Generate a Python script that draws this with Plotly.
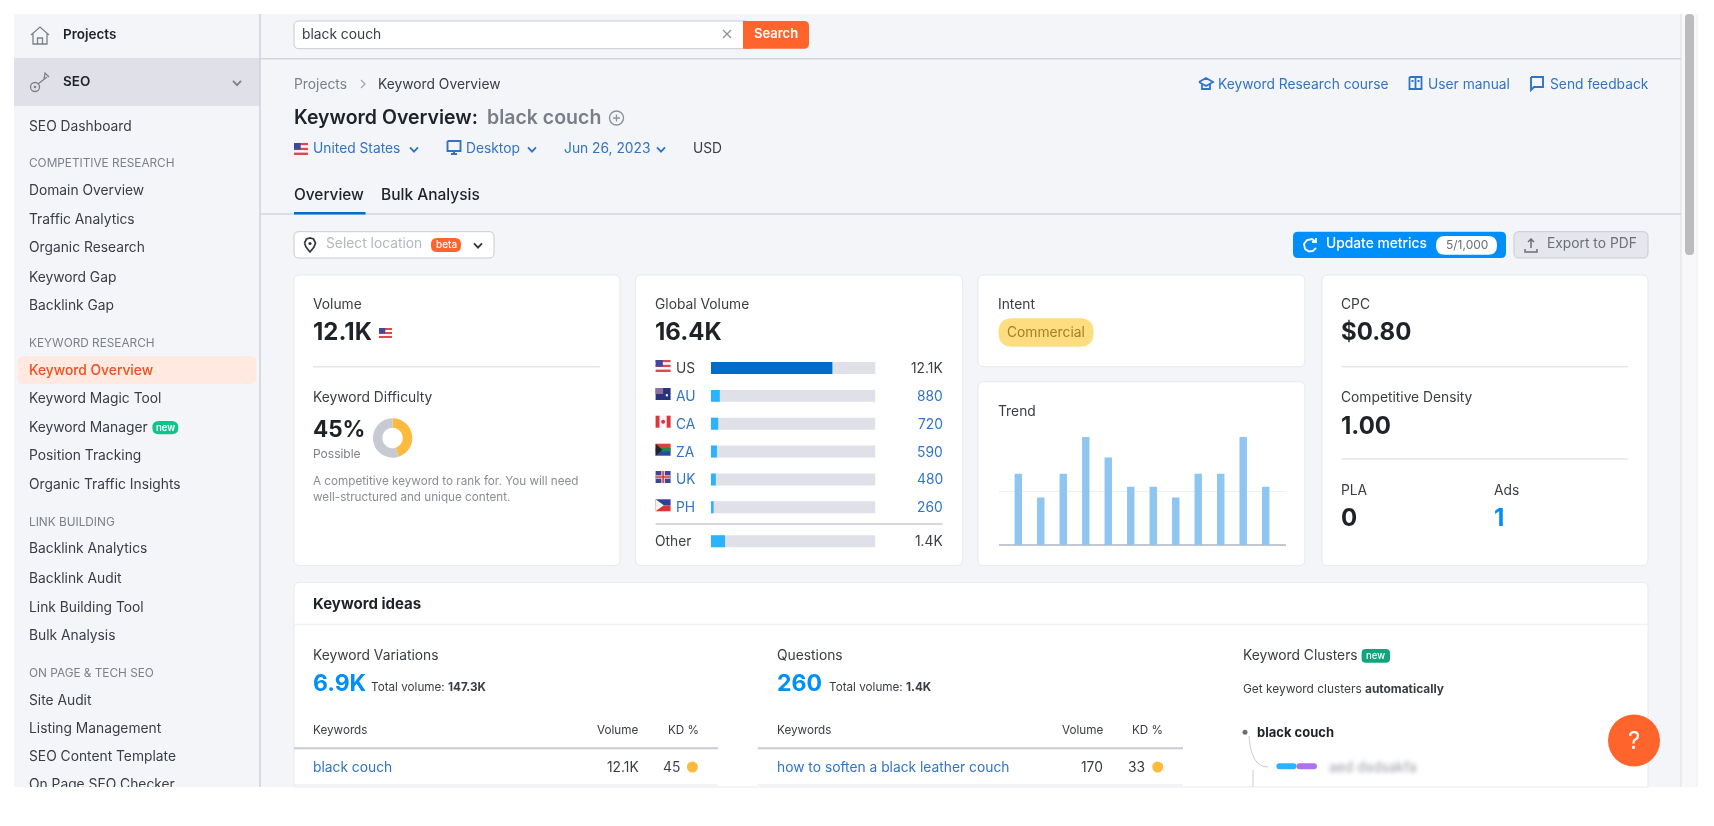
import plotly.graph_objects as go

# values
countries = ["US", "AU", "CA", "ZA", "UK", "PH"]
country_volume = [12100, 880, 720, 590, 480, 260]
country_labels = ["12.1K", "880", "720", "590", "480", "260"]
other_volume = [1400]
other_label = "1.4K"
global_volume = 16400

trend_months = [1, 2, 3, 4, 5, 6, 7, 8, 9, 10, 11, 12]
trend_values = [66, 44, 66, 100, 81, 54, 54, 44, 66, 66, 100, 54]

difficulty = [45, 55]

competitive_items = ["Domain Overview", "Traffic Analytics", "Organic Research", "Keyword Gap", "Backlink Gap"]
keyword_items = ["Keyword Overview", "Keyword Magic Tool", "Keyword Manager", "Position Tracking", "Organic Traffic Insights"]
link_items = ["Backlink Analytics", "Backlink Audit", "Link Building Tool", "Bulk Analysis"]
onpage_items = ["Site Audit", "Listing Management", "SEO Content Template"]

W, H = 1714, 826
APP_BOTTOM = 787
FONT = "Inter"
BODY = 13.8
DARK = "#1f2229"
TEXT = "#3a3d45"
GREY = "#7d8089"
BLUE = "#2f74c8"
BRIGHT = "#008ff8"
ORANGE = "#ff642d"
BG = "#f4f5f9"
LINE = "#d3d5dc"
LIGHT = "#e6e7ed"

shapes = []
annotations = []


def txt(x, y, s, size=BODY, color=TEXT, weight=400, anchor="left"):
    # small nudge, annotations sit a bit right and low of the screenshot text
    annotations.append(dict(x=x - 0.3 if anchor == "left" else x, y=y - 0.1, xref="x", yref="y", text=s, showarrow=False,
                            xanchor=anchor, yanchor="middle", borderpad=0, borderwidth=0,
                            font=dict(family=FONT, size=size, color=color, weight=weight)))


def rect(x0, y0, x1, y1, fill, line=None, lw=1):
    shapes.append(dict(type="rect", xref="x", yref="y", x0=x0, y0=y0, x1=x1, y1=y1, fillcolor=fill,
                       line=dict(color=line or fill, width=lw if line else 0), layer="below"))


def rrect(x0, y0, x1, y1, r, fill, line=None, lw=1):
    p = (f"M{x0+r},{y0} L{x1-r},{y0} Q{x1},{y0} {x1},{y0+r} L{x1},{y1-r} Q{x1},{y1} {x1-r},{y1} "
         f"L{x0+r},{y1} Q{x0},{y1} {x0},{y1-r} L{x0},{y0+r} Q{x0},{y0} {x0+r},{y0} Z")
    shapes.append(dict(type="path", xref="x", yref="y", path=p, fillcolor=fill,
                       line=dict(color=line or fill, width=lw if line else 0), layer="below"))


def hline(x0, x1, y, color=LINE, lw=1.5):
    shapes.append(dict(type="line", xref="x", yref="y", x0=x0, x1=x1, y0=y, y1=y,
                       line=dict(color=color, width=lw), layer="below"))


def vline(x, y0, y1, color=LINE, lw=1.5):
    shapes.append(dict(type="line", xref="x", yref="y", x0=x, x1=x, y0=y0, y1=y1,
                       line=dict(color=color, width=lw), layer="below"))


def dot(cx, cy, r, fill, line=None, lw=1):
    shapes.append(dict(type="circle", xref="x", yref="y", x0=cx-r, x1=cx+r, y0=cy-r, y1=cy+r, fillcolor=fill,
                       line=dict(color=line or fill, width=lw if line else 0), layer="below"))


def icon(cx, cy, strokes, color, lw=1.5, fill=None):
    # strokes are lists of (dx, dy) polylines around the icon centre
    p = ""
    for pts in strokes:
        p += "M" + " L".join(f"{cx+a},{cy+b}" for a, b in pts) + " "
    shapes.append(dict(type="path", xref="x", yref="y", path=p.strip(), fillcolor=fill or "rgba(0,0,0,0)",
                       line=dict(color=color, width=lw), layer="below"))


def chevron(cx, cy, color=BLUE, s=4, lw=1.8):
    icon(cx, cy, [[(-s, -s*0.55), (0, s*0.55), (s, -s*0.55)]], color, lw)


def flag(x, cy, code, w=15, h=12):
    y = cy - h / 2
    if code == "US":
        for i in range(5):
            rect(x, y+i*h/5, x+w, y+(i+1)*h/5, "#e0484f" if i % 2 == 0 else "#f6f6f8")
        rect(x, y, x+w*0.48, y+h*0.55, "#3b4a9a")
    elif code == "AU":
        rect(x, y, x+w, y+h, "#27337f")
        rect(x, y, x+w*0.5, y+h*0.5, "#8f6f9f")
        dot(x+w*0.75, y+h*0.6, 1.2, "#ffffff")
    elif code == "CA":
        rect(x, y, x+w, y+h, "#f6f6f8")
        rect(x, y, x+w*0.26, y+h, "#e0343c")
        rect(x+w*0.74, y, x+w, y+h, "#e0343c")
        dot(x+w*0.5, y+h*0.5, 2, "#e0343c")
    elif code == "ZA":
        rect(x, y, x+w, y+h*0.5, "#d8443c")
        rect(x, y+h*0.5, x+w, y+h, "#2b4ba0")
        rect(x, y+h*0.36, x+w, y+h*0.64, "#1f8a4c")
        shapes.append(dict(type="path", xref="x", yref="y", fillcolor="#20242c", line=dict(width=0), layer="below",
                           path=f"M{x},{y} L{x+w*0.45},{y+h*0.5} L{x},{y+h} Z"))
    elif code == "UK":
        rect(x, y, x+w, y+h, "#39479a")
        rect(x, y+h*0.36, x+w, y+h*0.64, "#f3d8dc")
        rect(x+w*0.38, y, x+w*0.62, y+h, "#f3d8dc")
        rect(x, y+h*0.44, x+w, y+h*0.56, "#d8343c")
        rect(x+w*0.45, y, x+w*0.55, y+h, "#d8343c")
    elif code == "PH":
        rect(x, y, x+w, y+h*0.5, "#2f3f9e")
        rect(x, y+h*0.5, x+w, y+h, "#d8343c")
        shapes.append(dict(type="path", xref="x", yref="y", fillcolor="#f7f4e4", line=dict(width=0), layer="below",
                           path=f"M{x},{y} L{x+w*0.55},{y+h*0.5} L{x},{y+h} Z"))


# app background and sidebar
rect(14, 14, 1681, APP_BOTTOM, BG)
rect(1681, 14, 1697, APP_BOTTOM, "#f8f8fa")
vline(1681, 14, APP_BOTTOM, "#dcdde3", 1)
vline(1697, 14, APP_BOTTOM, "#eeeef2", 1)
rrect(1685, 14, 1694, 255, 4, "#bcbcbe")
rect(14, 58, 260, 106, "#e0e1e8")
vline(260, 14, APP_BOTTOM, "#cfd1d8", 1.5)
hline(260, 1681, 58.7)
hline(260, 1681, 214)
rect(294, 212, 365.5, 214.5, "#006dca")

icon(40, 35, [[(-9, 0), (0, -8), (9, 0)], [(-7, -1), (-7, 9), (7, 9), (7, -1)], [(-2.5, 9), (-2.5, 3), (2.5, 3), (2.5, 9)]], "#7d8089", 1.3)
dot(35, 87, 4.5, "rgba(0,0,0,0)", "#7d8089", 1.3)
dot(35, 87, 1.3, "#7d8089")
icon(40, 82, [[(-2, 2), (7, -5)], [(4, -3), (5, -9), (9, -5)]], "#7d8089", 1.3)
chevron(237, 83, "#7d8089")
txt(63, 34, "Projects", 13.5, DARK, 600)
txt(63, 81, "SEO", 13.5, DARK, 600)
txt(29.5, 126, "SEO Dashboard")

txt(29.5, 163.5, "COMPETITIVE RESEARCH", 11.8, GREY)
for label, y in zip(competitive_items, [190.5, 219, 247.5, 277, 305.5]):
    txt(29.5, y, label)

txt(29.5, 343, "KEYWORD RESEARCH", 11.8, GREY)
rrect(17.6, 356, 256.4, 384, 6, "#ffe9e0")
for label, y in zip(keyword_items, [370, 398.5, 427, 455.5, 484]):
    txt(29.5, y, label, color="#f0501e" if label == "Keyword Overview" else TEXT,
        weight=500 if label == "Keyword Overview" else 400)
rrect(152.3, 421, 178.3, 434.3, 6.5, "#0ec48a")
txt(165.3, 427.5, "new", 9.5, "#ffffff", 600, "center")

txt(29.5, 522, "LINK BUILDING", 11.8, GREY)
for label, y in zip(link_items, [548.5, 578, 607, 635]):
    txt(29.5, y, label)

txt(29.5, 673, "ON PAGE & TECH SEO", 11.8, GREY)
for label, y in zip(onpage_items, [700, 728, 756.5]):
    txt(29.5, y, label)

# search bar
rrect(294, 21, 750, 48.7, 5, "#ffffff", "#c9cbd2")
rrect(743, 21, 809, 48.7, 5, ORANGE)
rect(743, 21, 750, 48.7, ORANGE)
txt(302, 34, "black couch", BODY, TEXT)
icon(727, 34, [[(-4, -4), (4, 4)], [(-4, 4), (4, -4)]], "#8f929a", 1.3)
txt(776, 33, "Search", 13, "#ffffff", 600, "center")

# page header
txt(294, 84, "Projects", BODY, GREY)
icon(363, 84, [[(-2, -4), (2, 0), (-2, 4)]], "#a5a7af", 1.3)
txt(378, 84, "Keyword Overview", BODY, TEXT)
txt(294, 117.5, "Keyword Overview:", 19.5, DARK, 600)
txt(487.5, 117.5, "black couch", 19.5, "#7a7d85", 600)
dot(616.5, 118, 7, "rgba(0,0,0,0)", "#8f929a", 1.4)
icon(616.5, 118, [[(-3.5, 0), (3.5, 0)], [(0, -3.5), (0, 3.5)]], "#8f929a", 1.3)

flag(294, 149, "US", 14, 12)
txt(313, 148.5, "United States", BODY, BLUE)
chevron(414, 149.5)
icon(454, 147, [[(-6.5, -6), (6.5, -6), (6.5, 4), (-6.5, 4), (-6.5, -6)], [(-3, 7), (3, 7)], [(0, 4), (0, 7)]], BLUE, 1.9)
txt(466, 148.5, "Desktop", BODY, BLUE)
chevron(532, 149.5)
txt(564, 148.5, "Jun 26, 2023", BODY, BLUE)
chevron(661, 149.5)
txt(693, 148.5, "USD", BODY, TEXT)

txt(294, 194.7, "Overview", 15.4, DARK, 500)
txt(381, 194.7, "Bulk Analysis", 15.5, DARK, 500)

# header links
icon(1206, 84, [[(-7, -2), (0, -6), (7, -2), (0, 2), (-7, -2)], [(-4, 0), (-4, 5), (4, 5), (4, 0)]], BLUE, 1.8)
txt(1218, 84, "Keyword Research course", BODY, BLUE)
icon(1415.5, 83, [[(-6, -6), (6, -6), (6, 6), (-6, 6), (-6, -6)], [(0, -6), (0, 6)], [(-4, -2), (-2, -2)], [(2, -2), (4, -2)]], BLUE, 1.8)
txt(1428, 84, "User manual", BODY, BLUE)
icon(1537, 83, [[(-6, -6), (6, -6), (6, 4), (-3, 4), (-6, 7), (-6, -6)]], BLUE, 1.9)
txt(1550, 84, "Send feedback", BODY, BLUE)

# toolbar
rrect(294, 231.7, 494, 258, 5, "#ffffff", "#c9cbd2")
icon(310, 245, [[(-5.5, -2), (-3.5, -6), (0, -7), (3.5, -6), (5.5, -2), (4, 2), (0, 7), (-4, 2), (-5.5, -2)]], "#33363d", 1.7)
dot(310, 243.5, 1.6, "#33363d")
txt(326, 243.5, "Select location", BODY, "#b5b7c0")
rrect(431, 238, 461, 252, 6, ORANGE)
txt(446, 244.5, "beta", 10, "#ffffff", 500, "center")
chevron(478, 245.5, "#33363d")

rrect(1293, 231.7, 1506, 258, 5, BRIGHT)
icon(1310, 245, [[(6, 3), (3, 6), (-1, 6.5), (-5, 4), (-6, -1), (-3, -5), (2, -6), (6, -3)], [(6, -7), (6, -3), (2, -3)]], "#ffffff", 1.8)
txt(1326, 243.5, "Update metrics", BODY, "#ffffff", 500)
rrect(1436, 236, 1497, 254.7, 9, "#ffffff")
txt(1466.5, 244.5, "5/1,000", 12, "#6c6e79", 400, "center")
rrect(1514, 231.7, 1648, 258, 5, "#e6e7ed", "#c9cbd2")
icon(1531, 245, [[(0, 3), (0, -6)], [(-3, -3), (0, -6), (3, -3)], [(-6, 4), (-6, 7), (6, 7), (6, 4)]], "#6c6e79", 1.5)
txt(1547, 243.5, "Export to PDF", BODY, "#6c6e79")

# cards
for x0, y0, x1, y1 in [(294, 275, 620, 565.7), (635.4, 275, 962.7, 565.7), (978, 275, 1304.8, 366.7),
                       (978, 381.7, 1304.8, 565.7), (1322, 275, 1648, 565.7)]:
    rrect(x0, y0, x1, y1, 6, "#ffffff", "#e8e9ef")
shapes.append(dict(type="path", xref="x", yref="y", fillcolor="#ffffff", line=dict(color="#e8e9ef", width=1), layer="below",
                   path=f"M294,{APP_BOTTOM} L294,588 Q294,582.3 300,582.3 L1642,582.3 Q1648,582.3 1648,588 L1648,{APP_BOTTOM} Z"))

# volume card
txt(313, 304.3, "Volume")
txt(313, 332, "12.1K", 24, DARK, 700)
flag(379, 333, "US", 13, 10)
hline(313, 600, 366.7, LIGHT)
txt(313, 397.3, "Keyword Difficulty")
txt(313, 428.3, "45%", 22.5, DARK, 700)
txt(313, 454, "Possible", 12, GREY)
txt(313, 481, "A competitive keyword to rank for. You will need", 11.7, "#8a8d96")
txt(313, 497.3, "well-structured and unique content.", 11.7, "#8a8d96")

# global volume card
txt(655.6, 304.3, "Global Volume")
txt(655.6, 332, "16.4K", 24, DARK, 700)
row_y = [368, 396, 423.7, 451.7, 479, 507.3]
for code, label, y in zip(countries, country_labels, row_y):
    c = TEXT if code == "US" else BLUE
    flag(655.6, y - 2, code)
    txt(676.7, y, code, BODY, c)
    txt(942.5, y, label, BODY, c, anchor="right")
hline(655.6, 942.5, 524, "#c9cbd2")
txt(655.6, 541.3, "Other", BODY, TEXT)
txt(942.5, 541.3, other_label, BODY, TEXT, anchor="right")

# intent and trend cards
txt(998.5, 304.3, "Intent")
rrect(998.5, 318.3, 1093.6, 346.7, 14, "#fcdd80")
txt(1046, 332.5, "Commercial", BODY, "#a9801c", 400, "center")
txt(998.5, 411, "Trend")

# cpc card
txt(1341.4, 304.3, "CPC")
txt(1341.4, 332, "$0.80", 24, DARK, 700)
hline(1341.4, 1627.7, 366.7, LIGHT)
txt(1341.4, 397.3, "Competitive Density")
txt(1341.4, 425.5, "1.00", 24, DARK, 700)
hline(1341.4, 1627.7, 459, LIGHT)
txt(1341.4, 489.7, "PLA")
txt(1494, 489.7, "Ads")
txt(1341.4, 517.5, "0", 24, DARK, 700)
txt(1494, 517.5, "1", 24, BRIGHT, 700)

# keyword ideas
txt(313, 603.7, "Keyword ideas", 15, DARK, 700)
hline(294, 1648, 624.3, "#eeeff3", 1)

txt(313, 655, "Keyword Variations")
txt(313, 682.7, "6.9K", 23, BRIGHT, 700)
txt(371, 687, "Total volume: <b>147.3K</b>", 11.7, TEXT)
txt(313, 730.5, "Keywords", 11.7, TEXT)
txt(638.4, 730.5, "Volume", 11.7, TEXT, anchor="right")
txt(698.5, 730.5, "KD %", 11.7, TEXT, anchor="right")
hline(294, 718, 748.3, "#c9cbd2", 2)
txt(313, 767, "black couch", BODY, BLUE)
txt(639, 767, "12.1K", BODY, TEXT, anchor="right")
txt(680, 767, "45", BODY, TEXT, anchor="right")
dot(692.4, 767, 5.5, "#fdbb3e")
hline(294, 718, 785, LIGHT, 1)

txt(777.6, 655, "Questions")
txt(777.6, 682.7, "260", 23, BRIGHT, 700)
txt(829.5, 687, "Total volume: <b>1.4K</b>", 11.7, TEXT)
txt(777.6, 730.5, "Keywords", 11.7, TEXT)
txt(1103, 730.5, "Volume", 11.7, TEXT, anchor="right")
txt(1162.7, 730.5, "KD %", 11.7, TEXT, anchor="right")
hline(757.7, 1183, 748.3, "#c9cbd2", 2)
txt(777.6, 767, "how to soften a black leather couch", BODY, BLUE)
txt(1103, 767, "170", BODY, TEXT, anchor="right")
txt(1145, 767, "33", BODY, TEXT, anchor="right")
dot(1157.7, 767, 5.5, "#fdbb3e")
hline(757.7, 1183, 785, LIGHT, 1)

txt(1243, 655, "Keyword Clusters")
rrect(1361.6, 649, 1390, 662.7, 4, "#12a57c")
txt(1375.8, 656, "new", 9.5, "#ffffff", 500, "center")
txt(1243, 688.3, "Get keyword clusters <b>automatically</b>", 11.9, TEXT)
dot(1245, 732.3, 2.5, "#6c6e79")
txt(1257, 732.3, "black couch", 13, DARK, 700)
vline(1253, 770, APP_BOTTOM, "#c9cbd2", 1)
shapes.append(dict(type="path", xref="x", yref="y", path="M1249,736 Q1251,767 1268,767", fillcolor="rgba(0,0,0,0)",
                   line=dict(color="#c9cbd2", width=1), layer="below"))
rrect(1276.4, 763.3, 1296.5, 769.3, 3, "#2bb3ff")
rrect(1296.5, 763.3, 1317, 769.3, 3, "#b072ec")
txt(1329, 767, "aed dsdsakfa", BODY, "#9a9ca3")

# help button
dot(1634, 740.5, 26, ORANGE)
txt(1634, 741, "?", 24, "#ffffff", 400, "center")

fig = go.Figure()

# trend bars
fig.add_trace(go.Bar(x=trend_months, y=trend_values, xaxis="x2", yaxis="y2", width=0.33,
                     marker=dict(color="#8ec6f1", line=dict(width=0)), showlegend=False))

# country bars, track first then the fill on top
fig.add_trace(go.Bar(y=countries, x=[global_volume] * len(countries), orientation="h", xaxis="x3", yaxis="y3",
                     width=0.43, marker=dict(color="#e0e1e8", line=dict(width=0)), showlegend=False))
fig.add_trace(go.Bar(y=countries, x=country_volume, orientation="h", xaxis="x3", yaxis="y3", width=0.43,
                     marker=dict(color=["#006dca"] + ["#2bb3ff"] * 5, line=dict(width=0)), showlegend=False))
fig.add_trace(go.Bar(y=["Other"], x=[global_volume], orientation="h", xaxis="x4", yaxis="y4", width=0.43,
                     marker=dict(color="#e0e1e8", line=dict(width=0)), showlegend=False))
fig.add_trace(go.Bar(y=["Other"], x=other_volume, orientation="h", xaxis="x4", yaxis="y4", width=0.43,
                     marker=dict(color="#2bb3ff", line=dict(width=0)), showlegend=False))

# difficulty donut
fig.add_trace(go.Pie(values=difficulty, hole=0.52, sort=False, direction="clockwise", rotation=0,
                     textinfo="none", showlegend=False, marker=dict(colors=["#fdbb3e", "#c8cad3"], line=dict(width=0)),
                     domain=dict(x=[372.9 / W, 412.3 / W], y=[1 - 457.7 / H, 1 - 418.3 / H])))

# last sidebar entry is cut off by the bottom of the screenshot, so it goes in a clipping subplot
fig.add_trace(go.Scatter(x=[29], y=[785.5], mode="text", text=["On Page SEO Checker"], textposition="middle right",
                         textfont=dict(family=FONT, size=BODY, color=TEXT), cliponaxis=True,
                         xaxis="x5", yaxis="y5", showlegend=False))


def hidden(**kw):
    return dict(visible=False, fixedrange=True, **kw)


def dom(top, bottom):
    return [1 - bottom / H, 1 - top / H]


fig.update_layout(
    width=W, height=H, margin=dict(l=0, r=0, t=0, b=0), paper_bgcolor="#ffffff", plot_bgcolor="rgba(0,0,0,0)",
    barmode="overlay", font=dict(family=FONT), shapes=shapes, annotations=annotations, hovermode=False,
    xaxis=hidden(domain=[0, 1], range=[0, W]),
    yaxis=hidden(domain=[0, 1], range=[H, 0]),
    xaxis2=hidden(domain=[998.5 / W, 1285.5 / W], range=[0.12, 12.88], anchor="y2"),
    yaxis2=dict(domain=dom(437, 545), range=[0, 100], tickvals=[0, 50, 100], showticklabels=False, ticks="",
                showgrid=True, gridcolor="#eff0f4", gridwidth=1, zeroline=True, zerolinecolor="#c4c7cf", zerolinewidth=1.5,
                showline=False, fixedrange=True, anchor="x2"),
    xaxis3=hidden(domain=[711 / W, 875.5 / W], range=[0, global_volume], anchor="y3"),
    yaxis3=hidden(domain=dom(354.1, 521.2), type="category", categoryorder="array", categoryarray=countries,
                  range=[5.5, -0.5], anchor="x3"),
    xaxis4=hidden(domain=[711 / W, 875.5 / W], range=[0, global_volume], anchor="y4"),
    yaxis4=hidden(domain=dom(527.4, 555.2), type="category", range=[-0.5, 0.5], anchor="x4"),
    xaxis5=hidden(domain=[0, 1], range=[0, W], anchor="y5"),
    yaxis5=hidden(domain=dom(0, APP_BOTTOM), range=[APP_BOTTOM, 0], anchor="x5"),
)

# the screenshot is soft and the cluster name is blurred in it
post = """
document.body.style.margin='0';
document.body.style.overflow='hidden';
document.querySelector('.plot-container').style.filter='blur(0.45px)';
document.querySelectorAll('.annotation').forEach(function(a){
  if (a.textContent.indexOf('aed dsdsakfa') >= 0) { a.style.filter='blur(2.2px)'; }
});
"""
fig.write_html("out.html", config=dict(displayModeBar=False), post_script=post)
